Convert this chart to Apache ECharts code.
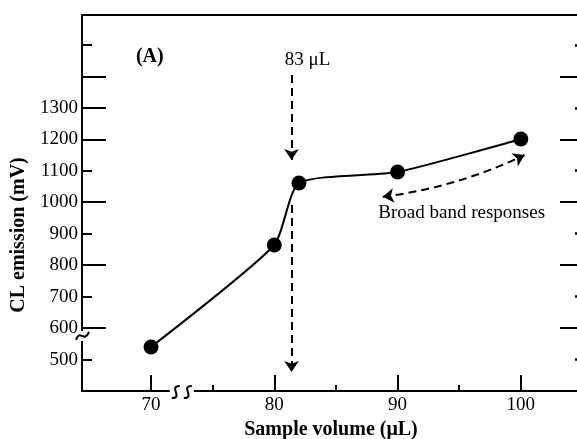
<!DOCTYPE html>
<html><head><meta charset="utf-8">
<script src="https://cdn.jsdelivr.net/npm/echarts@6/dist/echarts.min.js"></script>
<style>html,body{margin:0;padding:0;background:#fff}#c{width:577px;height:439px}</style>
</head><body><div id="c"></div>
<script>
// ---- data ----
const sampleVolume = [70, 80, 82, 90, 100];
const clEmission = [540, 864, 1061, 1096, 1201];
const xTickLabels = [70, 80, 90, 100];
const xMinorTicks = [75, 85, 95];
const yTickLabels = [500, 600, 700, 800, 900, 1000, 1100, 1200, 1300];
const yLongTicks = [600, 800, 1000, 1200, 1300, 1400];
const yShortTicks = [500, 700, 900, 1100, 1500];
const rightLongTicks = [600, 800, 1000, 1200, 1400];
const rightShortTicks = [500, 700, 900, 1100, 1300, 1500];
const arrow83Upper = [[81.4, 1404], [81.4, 1134]];
const arrow83Lower = [[81.4, 991], [81.4, 460]];
const broadBandArrow = [[88.8, 1017], [100.3, 1150]];
const annotations = [
  { name: '(A)', value: [69.9, 1462], bold: true },
  { name: '83 μL', value: [82.7, 1452], bold: false },
  { name: 'Broad band responses', value: [95.2, 966], bold: false }
];
const xBreakAt = [72.5, 400];
const yBreakAt = [64.4, 575];

const FONT = "'Liberation Serif','Times New Roman',serif";
const BLACK = '#000';

const chart = echarts.init(document.getElementById('c'), null, { renderer: 'canvas' });
const XMIN = 64.4, XMAX = 104.8, YMIN = 400, YMAX = 1595;

const baseX = { type: 'value', min: XMIN, max: XMAX, splitLine: { show: false } };
const baseY = { type: 'value', min: YMIN, max: YMAX, splitLine: { show: false } };
const plain = v => String(v);

chart.setOption({
  animation: false,
  backgroundColor: '#fff',
  grid: { left: 82, right: -3, top: 15, bottom: 48, containLabel: false, outerBoundsMode: 'none' },
  xAxis: [
    Object.assign({}, baseX, {
      position: 'bottom',
      axisLine: { show: true, lineStyle: { color: BLACK, width: 2 } },
      axisTick: { show: true, inside: true, length: 16, customValues: xTickLabels, lineStyle: { color: BLACK, width: 2 } },
      axisLabel: { show: true, customValues: xTickLabels, formatter: plain, margin: 5, color: BLACK, fontSize: 19, fontFamily: FONT },
      name: 'Sample volume (μL)', nameLocation: 'middle', nameGap: 25,
      nameTextStyle: { color: BLACK, fontSize: 20, fontWeight: 'bold', fontFamily: FONT }
    }),
    Object.assign({}, baseX, {
      position: 'bottom',
      axisLine: { show: false },
      axisTick: { show: true, inside: true, length: 6, customValues: xMinorTicks, lineStyle: { color: BLACK, width: 2 } },
      axisLabel: { show: false }
    }),
    Object.assign({}, baseX, {
      position: 'top',
      axisLine: { show: true, lineStyle: { color: BLACK, width: 2 } },
      axisTick: { show: false },
      axisLabel: { show: false }
    })
  ],
  yAxis: [
    Object.assign({}, baseY, {
      position: 'left',
      axisLine: { show: true, lineStyle: { color: BLACK, width: 2 } },
      axisTick: { show: true, inside: true, length: 24, customValues: yLongTicks, lineStyle: { color: BLACK, width: 2 } },
      axisLabel: { show: true, customValues: yTickLabels, formatter: plain, margin: 4, color: BLACK, fontSize: 19, fontFamily: FONT },
      name: 'CL emission (mV)', nameLocation: 'middle', nameGap: 52,
      nameTextStyle: { color: BLACK, fontSize: 20, fontWeight: 'bold', fontFamily: FONT, padding: [0, 64, 0, 0] }
    }),
    Object.assign({}, baseY, {
      position: 'left',
      axisLine: { show: false },
      axisTick: { show: true, inside: true, length: 10, customValues: yShortTicks, lineStyle: { color: BLACK, width: 2 } },
      axisLabel: { show: false }
    }),
    Object.assign({}, baseY, {
      position: 'right',
      axisLine: { show: true, lineStyle: { color: BLACK, width: 2 } },
      axisTick: { show: true, inside: true, length: 20, customValues: rightLongTicks, lineStyle: { color: BLACK, width: 2 } },
      axisLabel: { show: false }
    }),
    Object.assign({}, baseY, {
      position: 'right',
      axisLine: { show: false },
      axisTick: { show: true, inside: true, length: 5, customValues: rightShortTicks, lineStyle: { color: BLACK, width: 2.5 } },
      axisLabel: { show: false }
    })
  ],
  series: [
    {
      type: 'line', xAxisIndex: 0, yAxisIndex: 0,
      data: sampleVolume.map((v, i) => [v, clEmission[i]]),
      smooth: 0.2,
      symbol: 'circle', symbolSize: 15,
      itemStyle: { color: BLACK, opacity: 1 },
      lineStyle: { color: BLACK, width: 2 },
      z: 5
    },
    {
      type: 'lines', coordinateSystem: 'cartesian2d', xAxisIndex: 0, yAxisIndex: 0,
      symbol: ['none', 'arrow'], symbolSize: 11,
      lineStyle: { color: BLACK, width: 2, type: [8, 5], opacity: 1, curveness: 0 },
      data: [{ coords: arrow83Upper }, { coords: arrow83Lower }],
      z: 4
    },
    {
      type: 'lines', coordinateSystem: 'cartesian2d', xAxisIndex: 0, yAxisIndex: 0,
      symbol: ['arrow', 'arrow'], symbolSize: 11,
      lineStyle: { color: BLACK, width: 2, type: [8, 5], opacity: 1, curveness: -0.08 },
      data: [{ coords: broadBandArrow }],
      z: 4
    },
    {
      type: 'scatter', xAxisIndex: 0, yAxisIndex: 0,
      symbolSize: 0, silent: true,
      itemStyle: { opacity: 1, color: BLACK },
      data: annotations.map(a => ({
        name: a.name, value: a.value,
        label: { fontWeight: a.bold ? 'bold' : 'normal', fontSize: a.bold ? 20 : 19 }
      })),
      label: { show: true, position: 'inside', formatter: '{b}', color: BLACK, opacity: 1, fontFamily: FONT, fontSize: 19 },
      z: 6
    }
  ]
});

// axis break marks, positioned through the grid's coordinate conversion
const xb = chart.convertToPixel({ gridIndex: 0 }, xBreakAt);
const yb = chart.convertToPixel({ gridIndex: 0 }, yBreakAt);
function sCurve(cx, cy, w, h) {
  return {
    type: 'bezierCurve',
    shape: { x1: cx + w, y1: cy - h, x2: cx - w, y2: cy + h, cpx1: cx - 2 * w, cpy1: cy - h, cpx2: cx + 2 * w, cpy2: cy + h },
    style: { stroke: BLACK, lineWidth: 2, fill: null }, z: 100
  };
}
chart.setOption({
  graphic: [
    { type: 'rect', shape: { x: xb[0] - 12, y: xb[1] - 3, width: 24, height: 6 }, style: { fill: '#fff' }, z: 99 },
    sCurve(xb[0] - 6, xb[1] + 1, 4, 6),
    sCurve(xb[0] + 6, xb[1] + 1, 4, 6),
    { type: 'rect', shape: { x: yb[0] - 3, y: yb[1] - 5, width: 6, height: 10 }, style: { fill: '#fff' }, z: 99 },
    {
      type: 'bezierCurve',
      shape: { x1: yb[0] - 6, y1: yb[1] + 4, x2: yb[0] + 7, y2: yb[1] - 4, cpx1: yb[0] - 2, cpy1: yb[1] - 8, cpx2: yb[0] + 2, cpy2: yb[1] + 8 },
      style: { stroke: BLACK, lineWidth: 2, fill: null }, z: 100
    }
  ]
});
</script>
</body></html>
